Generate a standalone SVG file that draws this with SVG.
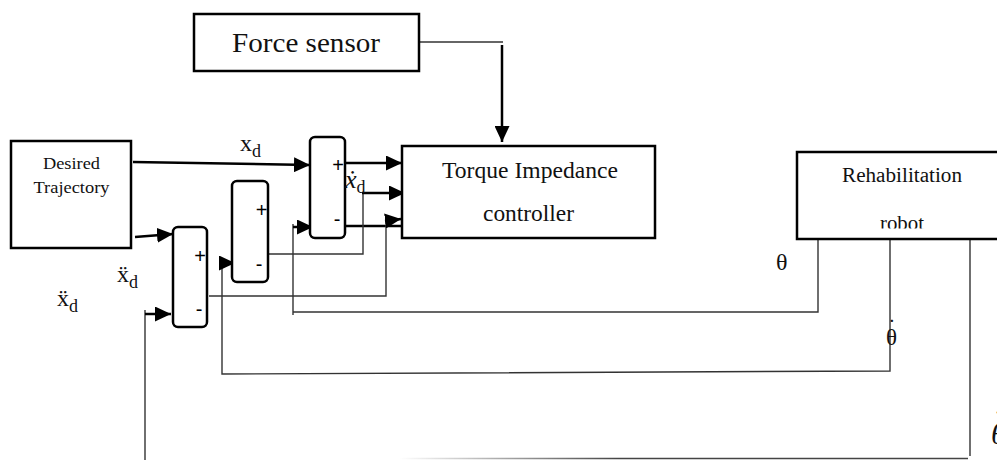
<svg xmlns="http://www.w3.org/2000/svg" width="997" height="460" viewBox="0 0 997 460">
<style>
.box{fill:#fff;stroke:#000;stroke-width:2.5}
.sum{fill:#fff;stroke:#000;stroke-width:2.5}
.thin{fill:none;stroke:#333;stroke-width:1.4}
.thick{fill:none;stroke:#000;stroke-width:2.5}
.t{font-family:"Liberation Serif","Times New Roman",serif;fill:#111}
.s{font-family:"Liberation Sans",Arial,sans-serif;font-size:20px;fill:#000;text-anchor:middle}
</style>
<defs>
<marker id="ah" markerUnits="userSpaceOnUse" markerWidth="16" markerHeight="15" refX="16" refY="7.5" orient="auto">
<path d="M0,0 L16,7.5 L0,15 z" fill="#000"/>
</marker>
<linearGradient id="fade" gradientUnits="userSpaceOnUse" x1="400" y1="0" x2="620" y2="0">
<stop offset="0" stop-color="#fff"/>
<stop offset="1" stop-color="#444"/>
</linearGradient>
<clipPath id="robotclip"><rect x="800" y="150" width="200" height="78.5"/></clipPath>
</defs>

<g id="connectors">
<!-- force sensor to controller -->
<path class="thin" d="M419,42 H503"/>
<path class="thick" d="M502,45 V142" marker-end="url(#ah)"/>
<!-- x_d -->
<path class="thick" d="M133,162 L310,165" marker-end="url(#ah)"/>
<!-- DT to J1 -->
<path class="thick" d="M135,237 L173,234" marker-end="url(#ah)"/>
<!-- J3 outputs -->
<path class="thick" d="M345,163 H402" marker-end="url(#ah)"/>
<path class="thick" d="M332,226 H426" marker-end="url(#ah)"/>
<!-- xdot_d from J2 -->
<path class="thin" d="M268,254 H363 V193"/>
<path class="thick" d="M362,193 H405" marker-end="url(#ah)"/>
<!-- J1 output -->
<path class="thin" d="M209,296 H386 V220"/>
<path class="thick" d="M385,221 L401,219" marker-end="url(#ah)"/>
<!-- theta feedback -->
<path class="thin" d="M818,239 V312 H293"/>
<path class="thin" d="M293,224 V315"/>
<path class="thick" d="M293,227 H313" marker-end="url(#ah)"/>
<!-- theta dot feedback -->
<path class="thin" d="M890,239 V371 L222,374 V262"/>
<path class="thick" d="M222,263 H235" marker-end="url(#ah)"/>
<!-- theta ddot feedback -->
<path class="thin" d="M970,239 V456"/>
<path fill="none" stroke="url(#fade)" stroke-width="1.6" d="M400,458.5 H968"/>
<path class="thin" d="M145,310 V460"/>
<path class="thick" d="M145,314 H171" marker-end="url(#ah)"/>
</g>

<g id="desired-trajectory">
<rect class="box" x="11" y="141" width="120" height="107"/>
<text class="t" x="71.5" y="169" font-size="17" text-anchor="middle" textLength="57" lengthAdjust="spacingAndGlyphs">Desired</text>
<text class="t" x="71.5" y="193" font-size="17" text-anchor="middle" textLength="76" lengthAdjust="spacingAndGlyphs">Trajectory</text>
</g>

<g id="force-sensor">
<rect class="box" x="194" y="14" width="225" height="57"/>
<text class="t" x="232" y="52" font-size="27" textLength="148" lengthAdjust="spacingAndGlyphs">Force sensor</text>
</g>

<g id="torque-controller">
<rect class="box" x="402" y="146" width="253" height="92"/>
<text class="t" x="442" y="178" font-size="23" textLength="176" lengthAdjust="spacingAndGlyphs">Torque Impedance</text>
<text class="t" x="483" y="221" font-size="23" textLength="91" lengthAdjust="spacingAndGlyphs">controller</text>
</g>

<g id="rehab-robot">
<rect class="box" x="797" y="152" width="230" height="87"/>
<text class="t" x="842" y="182" font-size="20" textLength="120" lengthAdjust="spacingAndGlyphs">Rehabilitation</text>
<text class="t" x="880" y="230" font-size="20" textLength="44" lengthAdjust="spacingAndGlyphs" clip-path="url(#robotclip)">robot</text>
</g>

<g id="sum1">
<rect class="sum" x="173" y="227" width="34" height="100" rx="5"/>
<text class="s" x="200" y="263">+</text>
<text class="s" x="199" y="316">-</text>
</g>

<g id="sum2">
<rect class="sum" x="232" y="181" width="36" height="101" rx="5"/>
<text class="s" x="261.5" y="217">+</text>
<text class="s" x="259" y="271">-</text>
</g>

<g id="sum3">
<rect class="sum" x="310" y="137" width="35" height="101" rx="5"/>
<text class="s" x="338" y="172">+</text>
<text class="s" x="337" y="226">-</text>
</g>

<g id="labels">
<text class="t" x="240" y="151" font-size="24">x<tspan font-size="18" dy="6">d</tspan></text>
<text class="t" x="345" y="188" font-size="26" font-style="italic">ẋ<tspan font-style="normal" font-size="18" dy="5">d</tspan></text>
<text class="t" x="117" y="282" font-size="24">ẍ<tspan font-size="18" dy="6">d</tspan></text>
<text class="t" x="57" y="306" font-size="24">ẍ<tspan font-size="18" dy="6">d</tspan></text>
<text class="t" x="776" y="270" font-size="24">θ</text>
<text class="t" x="886" y="345" font-size="23">θ<tspan dx="-9" dy="-10">˙</tspan></text>
<text class="t" x="991" y="444" font-size="30" font-style="italic">θ<tspan dx="-12" dy="-14">¨</tspan></text>
</g>
</svg>
